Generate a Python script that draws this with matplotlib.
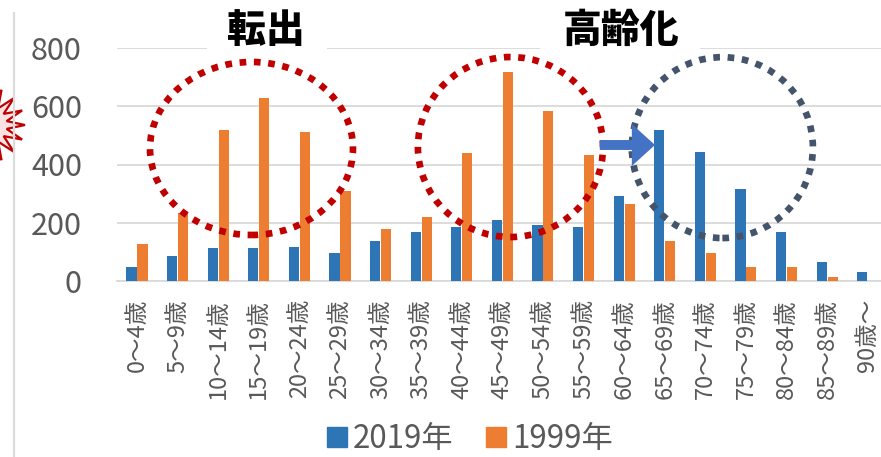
import numpy as np
import matplotlib
matplotlib.use("Agg")
import matplotlib.pyplot as plt
from matplotlib.patches import Ellipse, Polygon, FancyArrow, Rectangle
from matplotlib.lines import Line2D

plt.rcParams['font.family'] = ['Noto Sans CJK JP', 'DejaVu Sans']

# data
ages = ['0～4歳', '5～9歳', '10～14歳', '15～19歳', '20～24歳', '25～29歳',
        '30～34歳', '35～39歳', '40～44歳', '45～49歳', '50～54歳', '55～59歳',
        '60～64歳', '65～69歳', '70～74歳', '75～79歳', '80～84歳', '85～89歳',
        '90歳～']
pop_2019 = [47, 87, 112, 112, 116, 95, 136, 169, 185, 209, 191, 185,
            293, 518, 444, 317, 167, 64, 32]
pop_1999 = [127, 232, 518, 629, 510, 309, 177, 219, 440, 716, 585, 433,
            264, 136, 95, 49, 47, 15, 0]
series_labels = ['2019年', '1999年']
yticks = [0, 200, 400, 600, 800]

BLUE = '#2E75B6'
ORANGE = '#ED7D31'
GRID = '#D9D9D9'
TEXT = '#595959'

W, H = 881, 457
fig = plt.figure(figsize=(W / 100, H / 100), dpi=100)
ax = fig.add_axes([116.7 / W, 176 / H, (888 - 116.7) / W, 233 / H])

x = np.arange(len(ages))
bw = 0.25
ax.bar(x - 0.135, pop_2019, width=bw, color=BLUE, zorder=3)
ax.bar(x + 0.135, pop_1999, width=bw, color=ORANGE, zorder=3)

ax.set_xlim(-0.5, len(ages) - 0.5)
ax.set_ylim(0, 800)
ax.set_yticks(yticks)
ax.set_xticks(x)
ax.set_xticklabels(ages, rotation=90, fontsize=17, color=TEXT)
ax.tick_params(axis='y', length=0, pad=25, labelsize=22, labelcolor=TEXT)
ax.tick_params(axis='x', length=0, pad=13)
ax.grid(axis='y', color=GRID, lw=1.3, zorder=0)
ax.set_axisbelow(True)
for s in ['top', 'right', 'left']:
    ax.spines[s].set_visible(False)
ax.spines['bottom'].set_color(GRID)
ax.spines['bottom'].set_linewidth(1.3)

# white patches behind the headings (they break the top gridline)
for x0, x1 in [(207, 327), (540, 700)]:
    fig.add_artist(Rectangle((x0 / W, 1 - 54 / H), (x1 - x0) / W, 12 / H,
                             transform=fig.transFigure, fc='white', ec='none', zorder=1))

# dotted circles
dots = (0, (1.0, 1.15))
circles = [((2.82, 455), 5.0, 594, '#C00000'),
           ((9.2, 460), 4.56, 618, '#C00000'),
           ((14.42, 458), 4.46, 621, '#44546A')]
for (cx, cy), w, h, c in circles:
    ax.add_patch(Ellipse((cx, cy), w, h, fill=False, ec=c, lw=4.8,
                         linestyle=dots, capstyle='butt', zorder=5, clip_on=False))

# arrow
ax.add_patch(FancyArrow(11.4, 467, 1.36, 0, width=34, head_width=144,
                        head_length=0.57, length_includes_head=True,
                        color='#4472C4', lw=0, zorder=6, clip_on=False))

# headings
for label, px in [('転出', 266), ('高齢化', 621.5)]:
    fig.text(px / W, 1 - 30 / H, label, ha='center', va='center',
             fontsize=28, fontweight='heavy', color='black', zorder=3)

# legend
handles = [Rectangle((0, 0), 1, 1, color=BLUE), Rectangle((0, 0), 1, 1, color=ORANGE)]
fig.legend(handles, series_labels, loc='center', bbox_to_anchor=(470 / W, 1 - 439 / H),
           ncol=2, frameon=False, fontsize=22.5, labelcolor=TEXT,
           handlelength=0.63, handleheight=0.63, handletextpad=0.2,
           columnspacing=1.05, borderpad=0)

# slide border line on the left
fig.add_artist(Line2D([14 / W, 14 / W], [0, 1 - 13 / H], color='#DCDCDC', lw=1.6))

# starburst at the left edge (cut off)
n = 16
ang = np.linspace(0, 2 * np.pi, 2 * n, endpoint=False)
rad = np.where(np.arange(2 * n) % 2 == 0, 38, 20)
sx = -13 + rad * np.cos(ang)
sy = 125 + rad * np.sin(ang)
fig.add_artist(Polygon(np.column_stack([sx / W, 1 - sy / H]), closed=True,
                       fc='#FBE3E3', ec='#C00000', lw=1.6, transform=fig.transFigure))

fig.savefig('out.png', dpi=100)
